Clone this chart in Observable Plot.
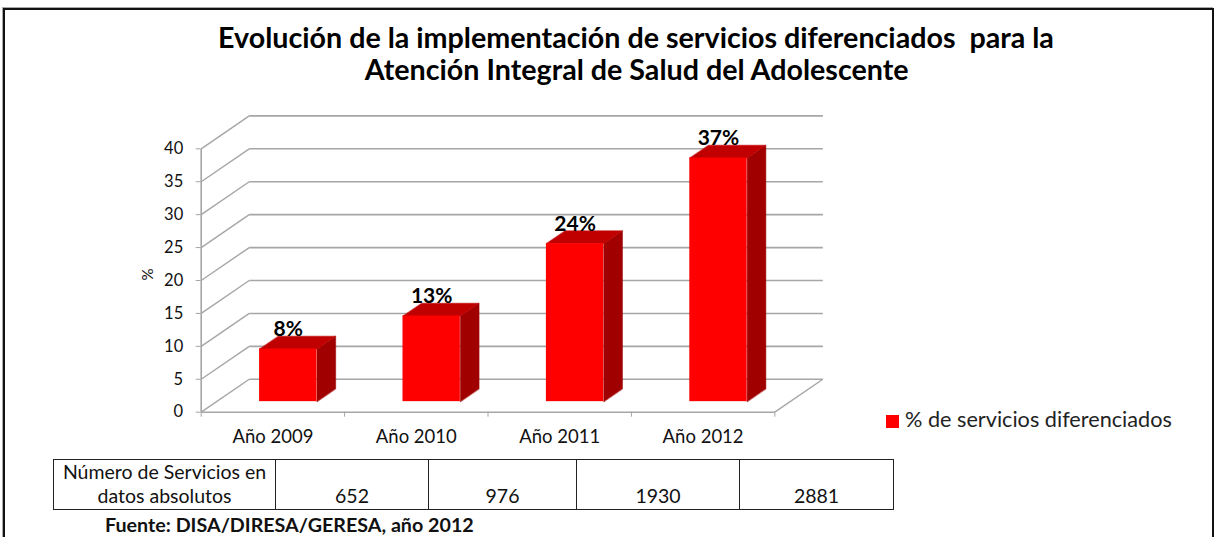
<!DOCTYPE html>
<html>
<head>
<meta charset="utf-8">
<script src="https://cdn.jsdelivr.net/npm/d3@7"></script>
<script src="https://cdn.jsdelivr.net/npm/@observablehq/plot@0.6"></script>
<style>
  html, body { margin: 0; padding: 0; background: #fff; }
  body { width: 1223px; height: 537px; position: relative; overflow: hidden; font-family: Lato, "Open Sans", sans-serif; color: #111; }
  #frame { position: absolute; left: 3px; top: 8px; width: 1211px; height: 600px; border: 2px solid #111; box-sizing: border-box; box-shadow: -1px -1px 0 #aaa; }
  #chart { position: absolute; left: 0; top: 0; }
  .t { position: absolute; white-space: pre; line-height: 1; }
  #title1, #title2 { font-weight: bold; color: #000; }
  #legend-key { position: absolute; left: 886px; top: 415px; width: 13px; height: 13px; background: #ff0000; }
  #legend-text { color: #222; }
  #source { font-weight: bold; color: #111; }
  #tbl { position: absolute; left: 53px; top: 459px; border-collapse: collapse; table-layout: fixed; width: 840px; }
  #tbl td { border: 1.5px solid #222; height: 46px; padding: 0 0 1px 0; text-align: center; vertical-align: bottom; font-size: 19.5px; line-height: 24px; color: #111; }
</style>
</head>
<body>
<div id="frame"></div>
<div id="chart"></div>
<div id="title1" class="t"></div>
<div id="title2" class="t"></div>
<div id="legend-key"></div>
<div id="legend-text" class="t"></div>
<table id="tbl"><colgroup>
  <col style="width:222px"><col style="width:153px"><col style="width:148px"><col style="width:163px"><col style="width:154px">
</colgroup><tbody><tr id="tblrow"></tr></tbody></table>
<div id="source" class="t"></div>
<script>
// ---------------- data ----------------
const categories = ["Año 2009", "Año 2010", "Año 2011", "Año 2012"];
const values = [8, 13, 24, 37];
const valueLabels = ["8%", "13%", "24%", "37%"];
const absolutos = [652, 976, 1930, 2881];
const yTicks = [0, 5, 10, 15, 20, 25, 30, 35, 40];
const seriesName = "% de servicios diferenciados";
const yLabel = "%";
const tableHeaderLines = ["Número de Servicios en", "datos absolutos"];
const titleLines = ["Evolución de la implementación de servicios diferenciados  para la", "Atención Integral de Salud del Adolescente"];
const sourceText = "Fuente: DISA/DIRESA/GERESA, año 2012";

// ---------------- 3D geometry (in scale units) ----------------
const DEPTH_X = 0.335, DEPTH_Y = 5;        // back wall offset
const BAR_W = 0.4, BAR_OFF = 0.32, BAR_DEPTH = 0.39;
const GRID = "#a6a6a6";
const nCat = categories.length;

const bars = values.map((v, i) => ({i, v, cat: categories[i], label: valueLabels[i]}));
const bx1 = d => d.i + 0.5 - BAR_W / 2 + BAR_OFF * DEPTH_X;
const bx2 = d => bx1(d) + BAR_W;
const by0 = BAR_OFF * DEPTH_Y;
const ddx = BAR_DEPTH * DEPTH_X, ddy = BAR_DEPTH * DEPTH_Y;

const topFaces = bars.flatMap(d => {
  const x1 = bx1(d), x2 = bx2(d), yt = d.v + by0;
  return [[x1, yt], [x2, yt], [x2 + ddx, yt + ddy], [x1 + ddx, yt + ddy]].map(([x, y]) => ({id: d.i, x, y}));
});
const sideFaces = bars.flatMap(d => {
  const x2 = bx2(d), yt = d.v + by0;
  return [[x2, by0], [x2, yt], [x2 + ddx, yt + ddy], [x2 + ddx, by0 + ddy]].map(([x, y]) => ({id: d.i, x, y}));
});
const catEdges = d3.range(nCat + 1);
const catCenters = categories.map((c, i) => i + 0.5);

const plot = Plot.plot({
  width: 1223,
  height: 537,
  marginLeft: 200.7,
  marginRight: 1223 - 774.3,
  marginTop: 148.3,
  marginBottom: 537 - 411.7,
  style: {fontFamily: "Lato, 'Open Sans', sans-serif", fontSize: "16px", color: "#111", background: "transparent", overflow: "visible"},
  x: {domain: [0, nCat]},
  y: {domain: [0, 40]},
  marks: [
    // back wall gridlines
    Plot.link(yTicks, {x1: () => DEPTH_X, x2: () => nCat + DEPTH_X, y1: d => d + DEPTH_Y, y2: d => d + DEPTH_Y, stroke: GRID, strokeWidth: 1.6}),
    // side wall diagonals
    Plot.link(yTicks, {x1: () => 0, y1: d => d, x2: () => DEPTH_X, y2: d => d + DEPTH_Y, stroke: GRID, strokeWidth: 1.4}),
    // floor right edge
    Plot.link([0], {x1: () => nCat, y1: () => 0, x2: () => nCat + DEPTH_X, y2: () => DEPTH_Y, stroke: GRID, strokeWidth: 1.4}),
    // front baseline and vertical axis
    Plot.link([0], {x1: () => 0, y1: () => 0, x2: () => nCat, y2: () => 0, stroke: GRID, strokeWidth: 1.6}),
    Plot.link([0], {x1: () => 0, y1: () => 0, x2: () => 0, y2: () => 40, stroke: GRID, strokeWidth: 1.6}),
    // bars
    Plot.line(sideFaces, {x: "x", y: "y", z: "id", curve: "linear-closed", fill: "#a00000", stroke: "#a00000", strokeWidth: 0.5}),
    Plot.line(topFaces, {x: "x", y: "y", z: "id", curve: "linear-closed", fill: "#c00000", stroke: "#c00000", strokeWidth: 0.5}),
    Plot.rect(bars, {x1: bx1, x2: bx2, y1: () => by0, y2: d => d.v + by0, fill: "#ff0000"}),
    // value labels
    Plot.text(bars, {x: d => d.i + 0.5 + BAR_OFF * DEPTH_X, y: d => d.v + by0 + ddy, text: "label", fontWeight: "bold", fontSize: 21, lineAnchor: "bottom", dy: 0, fill: "#000"}),
    // axes
    Plot.axisY({ticks: yTicks, tickSize: 5, tickPadding: 13, fontSize: 16.5, label: null, stroke: GRID}),
    Plot.text([yLabel], {frameAnchor: "left", dx: -52.7, rotate: -90, fontSize: 15, fill: "#111"}),
    Plot.axisX({ticks: catEdges, tickSize: 5, tickFormat: () => "", label: null, stroke: GRID}),
    Plot.axisX({ticks: catCenters, tickSize: 0, tickPadding: 18, tickFormat: d => categories[Math.floor(d)], fontSize: 18.5, label: null})
  ]
});
document.getElementById("chart").appendChild(plot);

// ---------------- HTML text: title, legend, table, source ----------------
document.getElementById("title1").textContent = titleLines[0];
document.getElementById("title2").textContent = titleLines[1];
document.getElementById("legend-text").textContent = seriesName;
document.getElementById("source").textContent = sourceText;
const row = document.getElementById("tblrow");
const th = document.createElement("td");
th.innerHTML = tableHeaderLines.join("<br>");
row.appendChild(th);
absolutos.forEach(n => { const td = document.createElement("td"); td.textContent = n; row.appendChild(td); });

function layoutText(id, fontSize, targetWidth, x, baseline, align) {
  const el = document.getElementById(id);
  el.style.fontSize = fontSize + "px";
  let r = el.getBoundingClientRect();
  if (targetWidth) { el.style.fontSize = (fontSize * targetWidth / r.width) + "px"; }
  const probe = document.createElement("span");
  probe.style.cssText = "display:inline-block;width:0;height:0;vertical-align:baseline";
  el.appendChild(probe);
  r = el.getBoundingClientRect();
  const off = probe.getBoundingClientRect().top - r.top;
  el.style.top = (baseline - off) + "px";
  el.style.left = (align === "center" ? x - r.width / 2 : x) + "px";
  probe.remove();
}
function layoutAll() {
  layoutText("title1", 25, 836, 636, 48.3, "center");
  layoutText("title2", parseFloat(document.getElementById("title1").style.fontSize), null, 636.7, 80, "center");
  layoutText("legend-text", 18, 267, 905, 427.3, "left");
  layoutText("source", 16, 369, 105, 531.7, "left");
}
layoutAll();
if (document.fonts && document.fonts.ready) document.fonts.ready.then(layoutAll);
</script>
</body>
</html>
